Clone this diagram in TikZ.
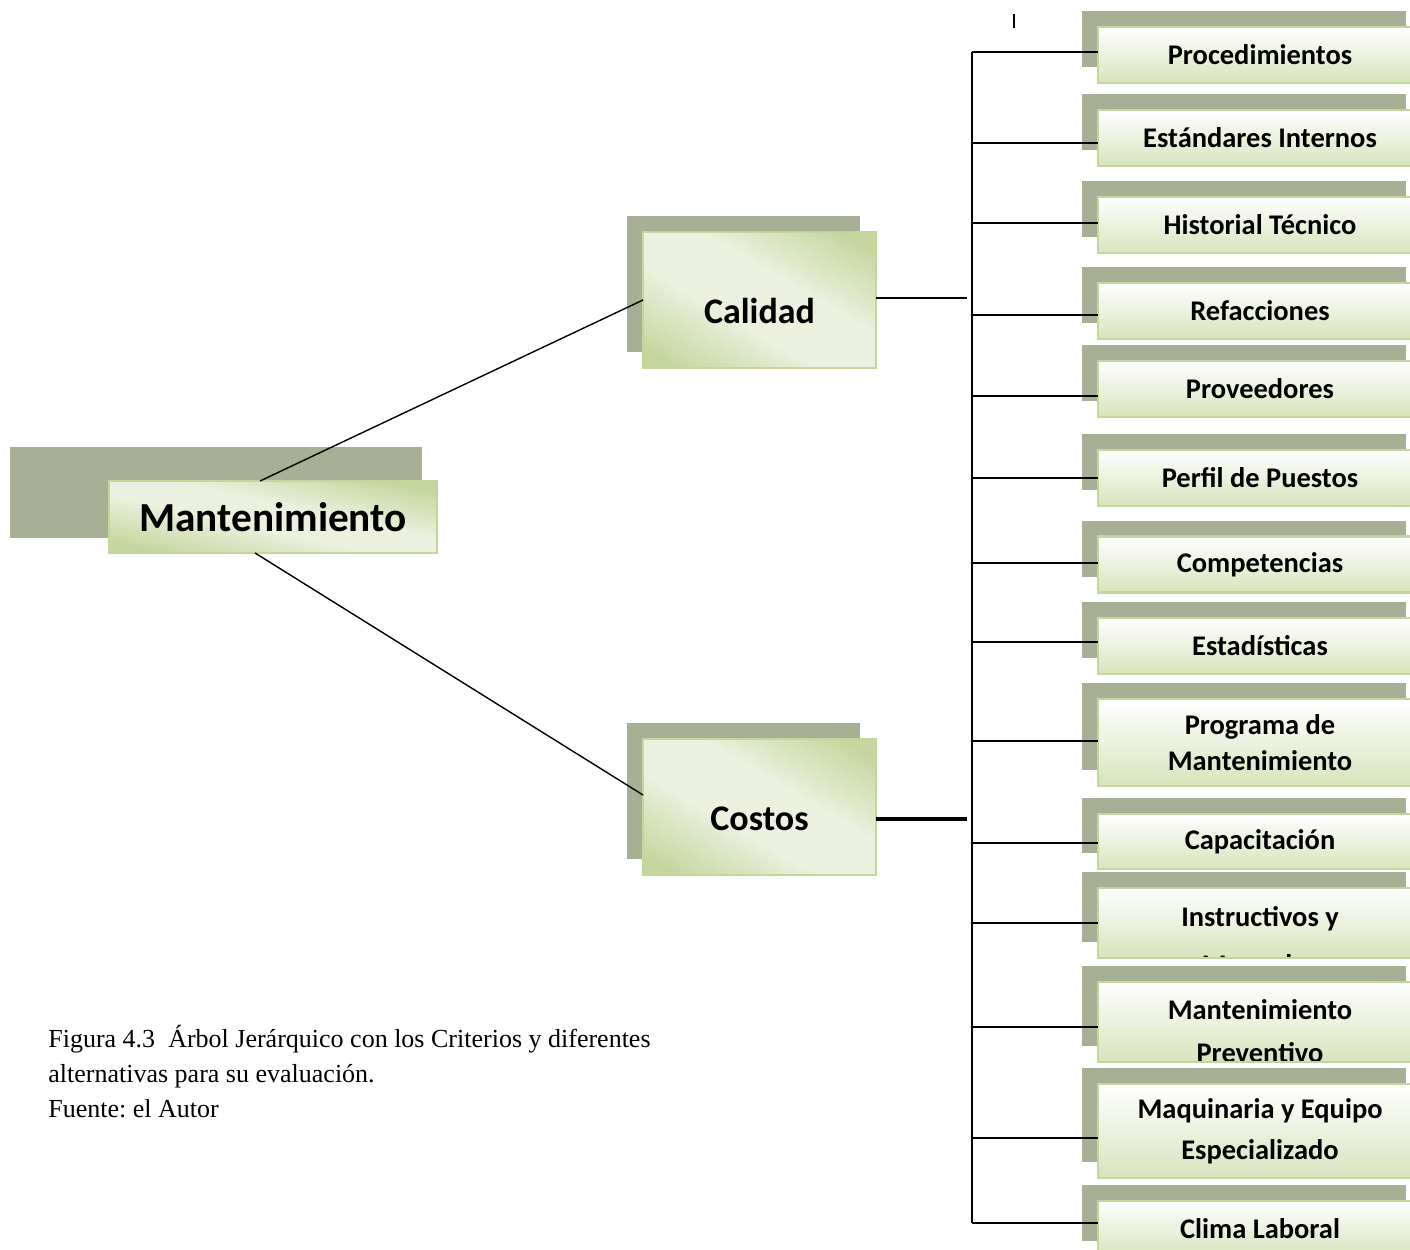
\documentclass[tikz,border=0pt]{standalone}
\usepackage{fontspec}
\setmainfont{Liberation Serif}
\newfontfamily\boxfont{Carlito}
\usetikzlibrary{shadows}
\frenchspacing

\definecolor{shadowgray}{HTML}{A7B094}
\definecolor{leafedge}{HTML}{C3D69B}
\definecolor{leaflight}{HTML}{EBF1DE}
\definecolor{leafgreen}{HTML}{C4D79F}
\definecolor{leafbottom}{HTML}{D7E4BC}

\pgfdeclareverticalshading{leafbandbig}{100bp}{color(0bp)=(leafgreen); color(29bp)=(leafgreen); color(44bp)=(leaflight); color(56bp)=(leaflight); color(71bp)=(leafgreen); color(100bp)=(leafgreen)}
\pgfdeclareverticalshading{leafbandflat}{100bp}{color(0bp)=(leafgreen); color(41bp)=(leafgreen); color(48bp)=(leaflight); color(52bp)=(leaflight); color(59bp)=(leafgreen); color(100bp)=(leafgreen)}

\tikzset{
  leaf/.style n args={3}{rectangle, draw=leafedge, line width=1.4pt, fill=leafgreen, inner sep=0pt, outer sep=0pt,
    path picture={\shade[shading=#1, shading angle=#2] ([shift={(-#3,-#3)}]path picture bounding box.center) rectangle ([shift={(#3,#3)}]path picture bounding box.center);}},
  big/.style={leaf={leafbandbig}{-30.3}{120}, minimum width=4.66cm, minimum height=2.72cm, text height=27pt, text depth=0pt,
    font=\boxfont\bfseries\fontsize{20.5}{24}\selectfont,
    general shadow={fill=shadowgray, shadow xshift=-0.32cm, shadow yshift=0.32cm}},
  itemfont/.style={font=\boxfont\bfseries\fontsize{16.2}{20.4}\selectfont},
  item/.style={rectangle, draw=leafedge, line width=1.4pt, top color=white, bottom color=leafbottom, minimum width=6.48cm, minimum height=1.12cm, inner sep=0pt, outer sep=0pt, align=center, itemfont,
    general shadow={fill=shadowgray, shadow xshift=-0.32cm, shadow yshift=0.32cm}},
  link/.style={line width=0.8pt},
  branch/.style={line width=1.1pt},
  trunkline/.style={line width=1.4pt}
}

\begin{document}
\begin{tikzpicture}[x=0.02cm, y=-0.02cm]
\useasboundingbox (0,0) rectangle (1410,1250);
\clip (0,0) rectangle (1410,1250);

% root and criteria
\fill[shadowgray] (10,447) rectangle (422,538);
\node (mant) [leaf={leafbandflat}{-12.4}{165}, minimum width=6.56cm, minimum height=1.44cm, font=\boxfont\bfseries\fontsize{23.5}{28}\selectfont] at (273,517) {Mantenimiento};
\node (cal) [big] at (759.5,300) {Calidad};
\node (cost) [big] at (759.5,807) {Costos};

\draw [link] ([xshift=-0.26cm]mant.north) -- (cal.west);
\draw [link] ([xshift=-0.36cm]mant.south) -- ([yshift=0.24cm]cost.west);

% trunk
\coordinate (trunk) at (972,0);
\coordinate (trunktop) at (972,52);
\coordinate (trunkbot) at (972,1223);
\coordinate (calj) at (967,298);
\coordinate (costj) at (967,819);
\draw [trunkline] (trunktop) -- (trunkbot);
\draw [branch] (calj -| cal.east) -- (calj);
\draw [branch, line width=2pt] (costj -| cost.east) -- (costj);
\draw [branch] (1014,14) -- (1014,28);

% alternatives
\foreach \n/\cy/\h/\by/\txt in {
  proc/55/1.12/52/Procedimientos,
  estd/138/1.12/143/Estándares Internos,
  hist/225/1.12/223/Historial Técnico,
  refa/311/1.12/315/Refacciones,
  prov/389/1.12/396/Proveedores,
  perf/478/1.12/478/Perfil de Puestos,
  comp/564.5/1.12/563/Competencias,
  esta/646/1.12/642/Estadísticas,
  prog/742.5/1.74/741/Programa de\\Mantenimiento,
  capa/841.5/1.1/843/Capacitación,
  maqu/1131/1.88/1138/Maquinaria y Equipo\\[0.1cm]Especializado,
  clim/1229/1.12/1223/Clima Laboral}
{
  \node (\n) [item, minimum height=\h cm] at (1260,\cy) {\txt};
  \coordinate (b\n) at (1000,\by);
  \draw [branch] (b\n -| trunk) -- (b\n -| \n.west);
}

% boxes whose second line is cut off
\node (inst) [item, minimum height=1.4cm, path picture={
  \node (insttxt) [itemfont, align=center] at ([yshift=-0.36cm]path picture bounding box.center) {Instructivos y\\[0.24cm]Manuales};}] at (1260,923) {};
\node (prev) [item, minimum height=1.6cm, path picture={
  \node (prevtxt) [itemfont, align=center] at ([yshift=-0.185cm]path picture bounding box.center) {Mantenimiento\\[0.15cm]Preventivo};}] at (1260,1022) {};
\coordinate (binst) at (1000,923);
\coordinate (bprev) at (1000,1027);
\draw [branch] (binst -| trunk) -- (binst -| inst.west);
\draw [branch] (bprev -| trunk) -- (bprev -| prev.west);

% caption
\node (caption) [anchor=north west, align=left, inner sep=0pt, font=\fontsize{14.8}{19.8}\selectfont] at (48,1025)
  {Figura 4.3\ \ Árbol Jerárquico con los Criterios y diferentes\\alternativas para su evaluación.\\Fuente: el Autor};
\end{tikzpicture}
\end{document}
